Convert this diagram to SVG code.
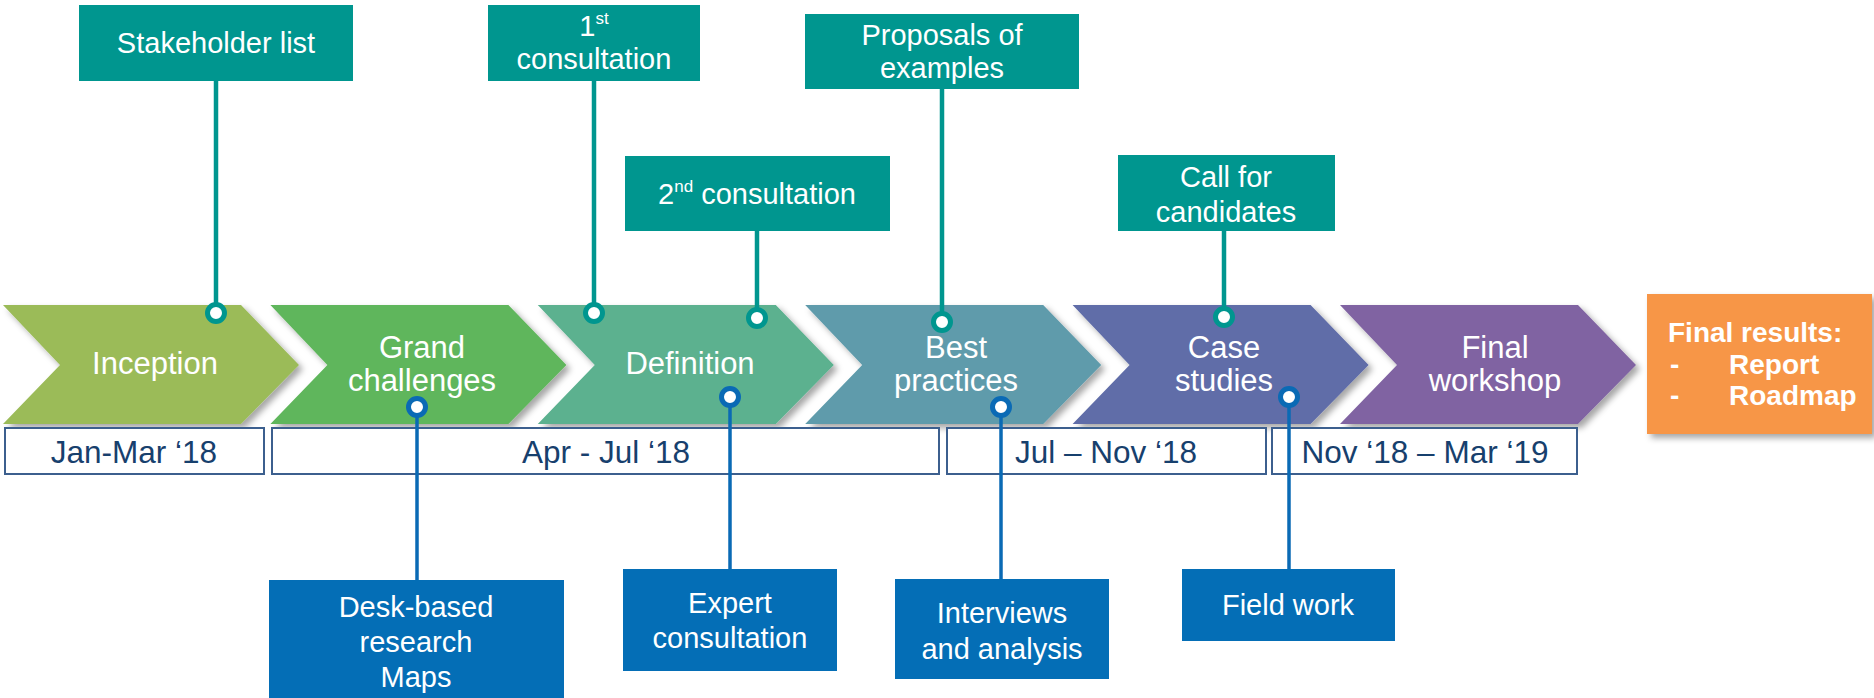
<svg xmlns="http://www.w3.org/2000/svg" width="1874" height="698" viewBox="0 0 1874 698">
<defs>
<filter id="sh" x="-10%" y="-10%" width="130%" height="140%">
<feDropShadow dx="4" dy="4" stdDeviation="3" flood-color="#000" flood-opacity="0.35"/>
</filter>
<path id="chev" d="M0,305 H238 L296,365 L238,424 H0 L57,365 Z"/>
<style>
text{font-family:"Liberation Sans",Arial,sans-serif}
.ct{fill:#fff;font-size:31px;text-anchor:middle}
.bt{fill:#fff;font-size:29px;text-anchor:middle}
.dt{fill:#17406D;font-size:31.5px;text-anchor:middle}
.date{fill:#fff;stroke:#3C5F8E;stroke-width:2}
.teal{fill:#00968F}
.blue{fill:#046EB6}
.tl{stroke:#00968F;stroke-width:4.5;fill:none}
.bl{stroke:#0A6AB5;stroke-width:3.5;fill:none}
.tc{fill:#fff;stroke:#00968F;stroke-width:5}
.bc{fill:#fff;stroke:#0A6AB5;stroke-width:5}
.fr{fill:#fff;font-size:28px;font-weight:bold}
</style>
</defs>
<rect width="1874" height="698" fill="#fff"/>

<g id="inception">
<use href="#chev" transform="translate(3,0)" fill="#9BBB59" filter="url(#sh)"/>
<text class="ct" x="155" y="374">Inception</text>
</g>
<g id="grand-challenges">
<use href="#chev" transform="translate(270.4,0)" fill="#5FB65B" filter="url(#sh)"/>
<text class="ct" x="422" y="358">Grand</text>
<text class="ct" x="422" y="391">challenges</text>
</g>
<g id="definition">
<use href="#chev" transform="translate(537.8,0)" fill="#5BB18F" filter="url(#sh)"/>
<text class="ct" x="690" y="374">Definition</text>
</g>
<g id="best-practices">
<use href="#chev" transform="translate(805.2,0)" fill="#5F9BAB" filter="url(#sh)"/>
<text class="ct" x="956" y="358">Best</text>
<text class="ct" x="956" y="391">practices</text>
</g>
<g id="case-studies">
<use href="#chev" transform="translate(1072.6,0)" fill="#606DA8" filter="url(#sh)"/>
<text class="ct" x="1224" y="358">Case</text>
<text class="ct" x="1224" y="391">studies</text>
</g>
<g id="final-workshop">
<use href="#chev" transform="translate(1340,0)" fill="#8064A2" filter="url(#sh)"/>
<text class="ct" x="1495" y="358">Final</text>
<text class="ct" x="1495" y="391">workshop</text>
</g>
<g id="final-results">
<rect x="1647" y="294" width="225" height="140" fill="#F79646" filter="url(#sh)"/>
<text class="fr" x="1668" y="342">Final results:</text>
<text class="fr" x="1670" y="374">-</text>
<text class="fr" x="1729" y="374">Report</text>
<text class="fr" x="1670" y="405">-</text>
<text class="fr" x="1729" y="405">Roadmap</text>
</g>

<g id="dates">
<g id="date-jan-mar"><rect class="date" x="5" y="428" width="259" height="46"/><text class="dt" x="134" y="463">Jan-Mar ‘18</text></g>
<g id="date-apr-jul"><rect class="date" x="272" y="428" width="667" height="46"/><text class="dt" x="606" y="463">Apr - Jul ‘18</text></g>
<g id="date-jul-nov"><rect class="date" x="947" y="428" width="319" height="46"/><text class="dt" x="1106" y="463">Jul – Nov ‘18</text></g>
<g id="date-nov-mar"><rect class="date" x="1272" y="428" width="305" height="46"/><text class="dt" x="1425" y="463">Nov ‘18 – Mar ‘19</text></g>
</g>

<g id="connectors">
<line class="tl" x1="216" y1="81" x2="216" y2="313"/>
<line class="tl" x1="594" y1="81" x2="594" y2="313"/>
<line class="tl" x1="757" y1="231" x2="757" y2="318"/>
<line class="tl" x1="942" y1="89" x2="942" y2="322"/>
<line class="tl" x1="1224" y1="231" x2="1224" y2="317"/>
<line class="bl" x1="417" y1="407" x2="417" y2="580"/>
<line class="bl" x1="730" y1="397" x2="730" y2="569"/>
<line class="bl" x1="1001" y1="407" x2="1001" y2="579"/>
<line class="bl" x1="1289" y1="397" x2="1289" y2="569"/>
<circle class="tc" cx="216" cy="313" r="8.5"/>
<circle class="tc" cx="594" cy="313" r="8.5"/>
<circle class="tc" cx="757" cy="318" r="8.5"/>
<circle class="tc" cx="942" cy="322" r="8.5"/>
<circle class="tc" cx="1224" cy="317" r="8.5"/>
<circle class="bc" cx="417" cy="407" r="8.5"/>
<circle class="bc" cx="730" cy="397" r="8.5"/>
<circle class="bc" cx="1001" cy="407" r="8.5"/>
<circle class="bc" cx="1289" cy="397" r="8.5"/>
</g>

<g id="stakeholder-list">
<rect class="teal" x="79" y="5" width="274" height="76"/>
<text class="bt" x="216" y="53">Stakeholder list</text>
</g>
<g id="first-consultation">
<rect class="teal" x="488" y="5" width="212" height="76"/>
<text class="bt" x="594" y="36">1<tspan font-size="17" dy="-12">st</tspan></text>
<text class="bt" x="594" y="69">consultation</text>
</g>
<g id="proposals">
<rect class="teal" x="805" y="14" width="274" height="75"/>
<text class="bt" x="942" y="45">Proposals of</text>
<text class="bt" x="942" y="78">examples</text>
</g>
<g id="second-consultation">
<rect class="teal" x="625" y="156" width="265" height="75"/>
<text class="bt" x="757" y="204">2<tspan font-size="17" dy="-12">nd</tspan><tspan dy="12"> consultation</tspan></text>
</g>
<g id="call-for-candidates">
<rect class="teal" x="1118" y="155" width="217" height="76"/>
<text class="bt" x="1226" y="187">Call for</text>
<text class="bt" x="1226" y="222">candidates</text>
</g>

<g id="desk-based">
<rect class="blue" x="269" y="580" width="295" height="118"/>
<text class="bt" x="416" y="617">Desk-based</text>
<text class="bt" x="416" y="652">research</text>
<text class="bt" x="416" y="687">Maps</text>
</g>
<g id="expert-consultation">
<rect class="blue" x="623" y="569" width="214" height="102"/>
<text class="bt" x="730" y="613">Expert</text>
<text class="bt" x="730" y="648">consultation</text>
</g>
<g id="interviews">
<rect class="blue" x="895" y="579" width="214" height="100"/>
<text class="bt" x="1002" y="623">Interviews</text>
<text class="bt" x="1002" y="659">and analysis</text>
</g>
<g id="field-work">
<rect class="blue" x="1182" y="569" width="213" height="72"/>
<text class="bt" x="1288" y="615">Field work</text>
</g>
</svg>
